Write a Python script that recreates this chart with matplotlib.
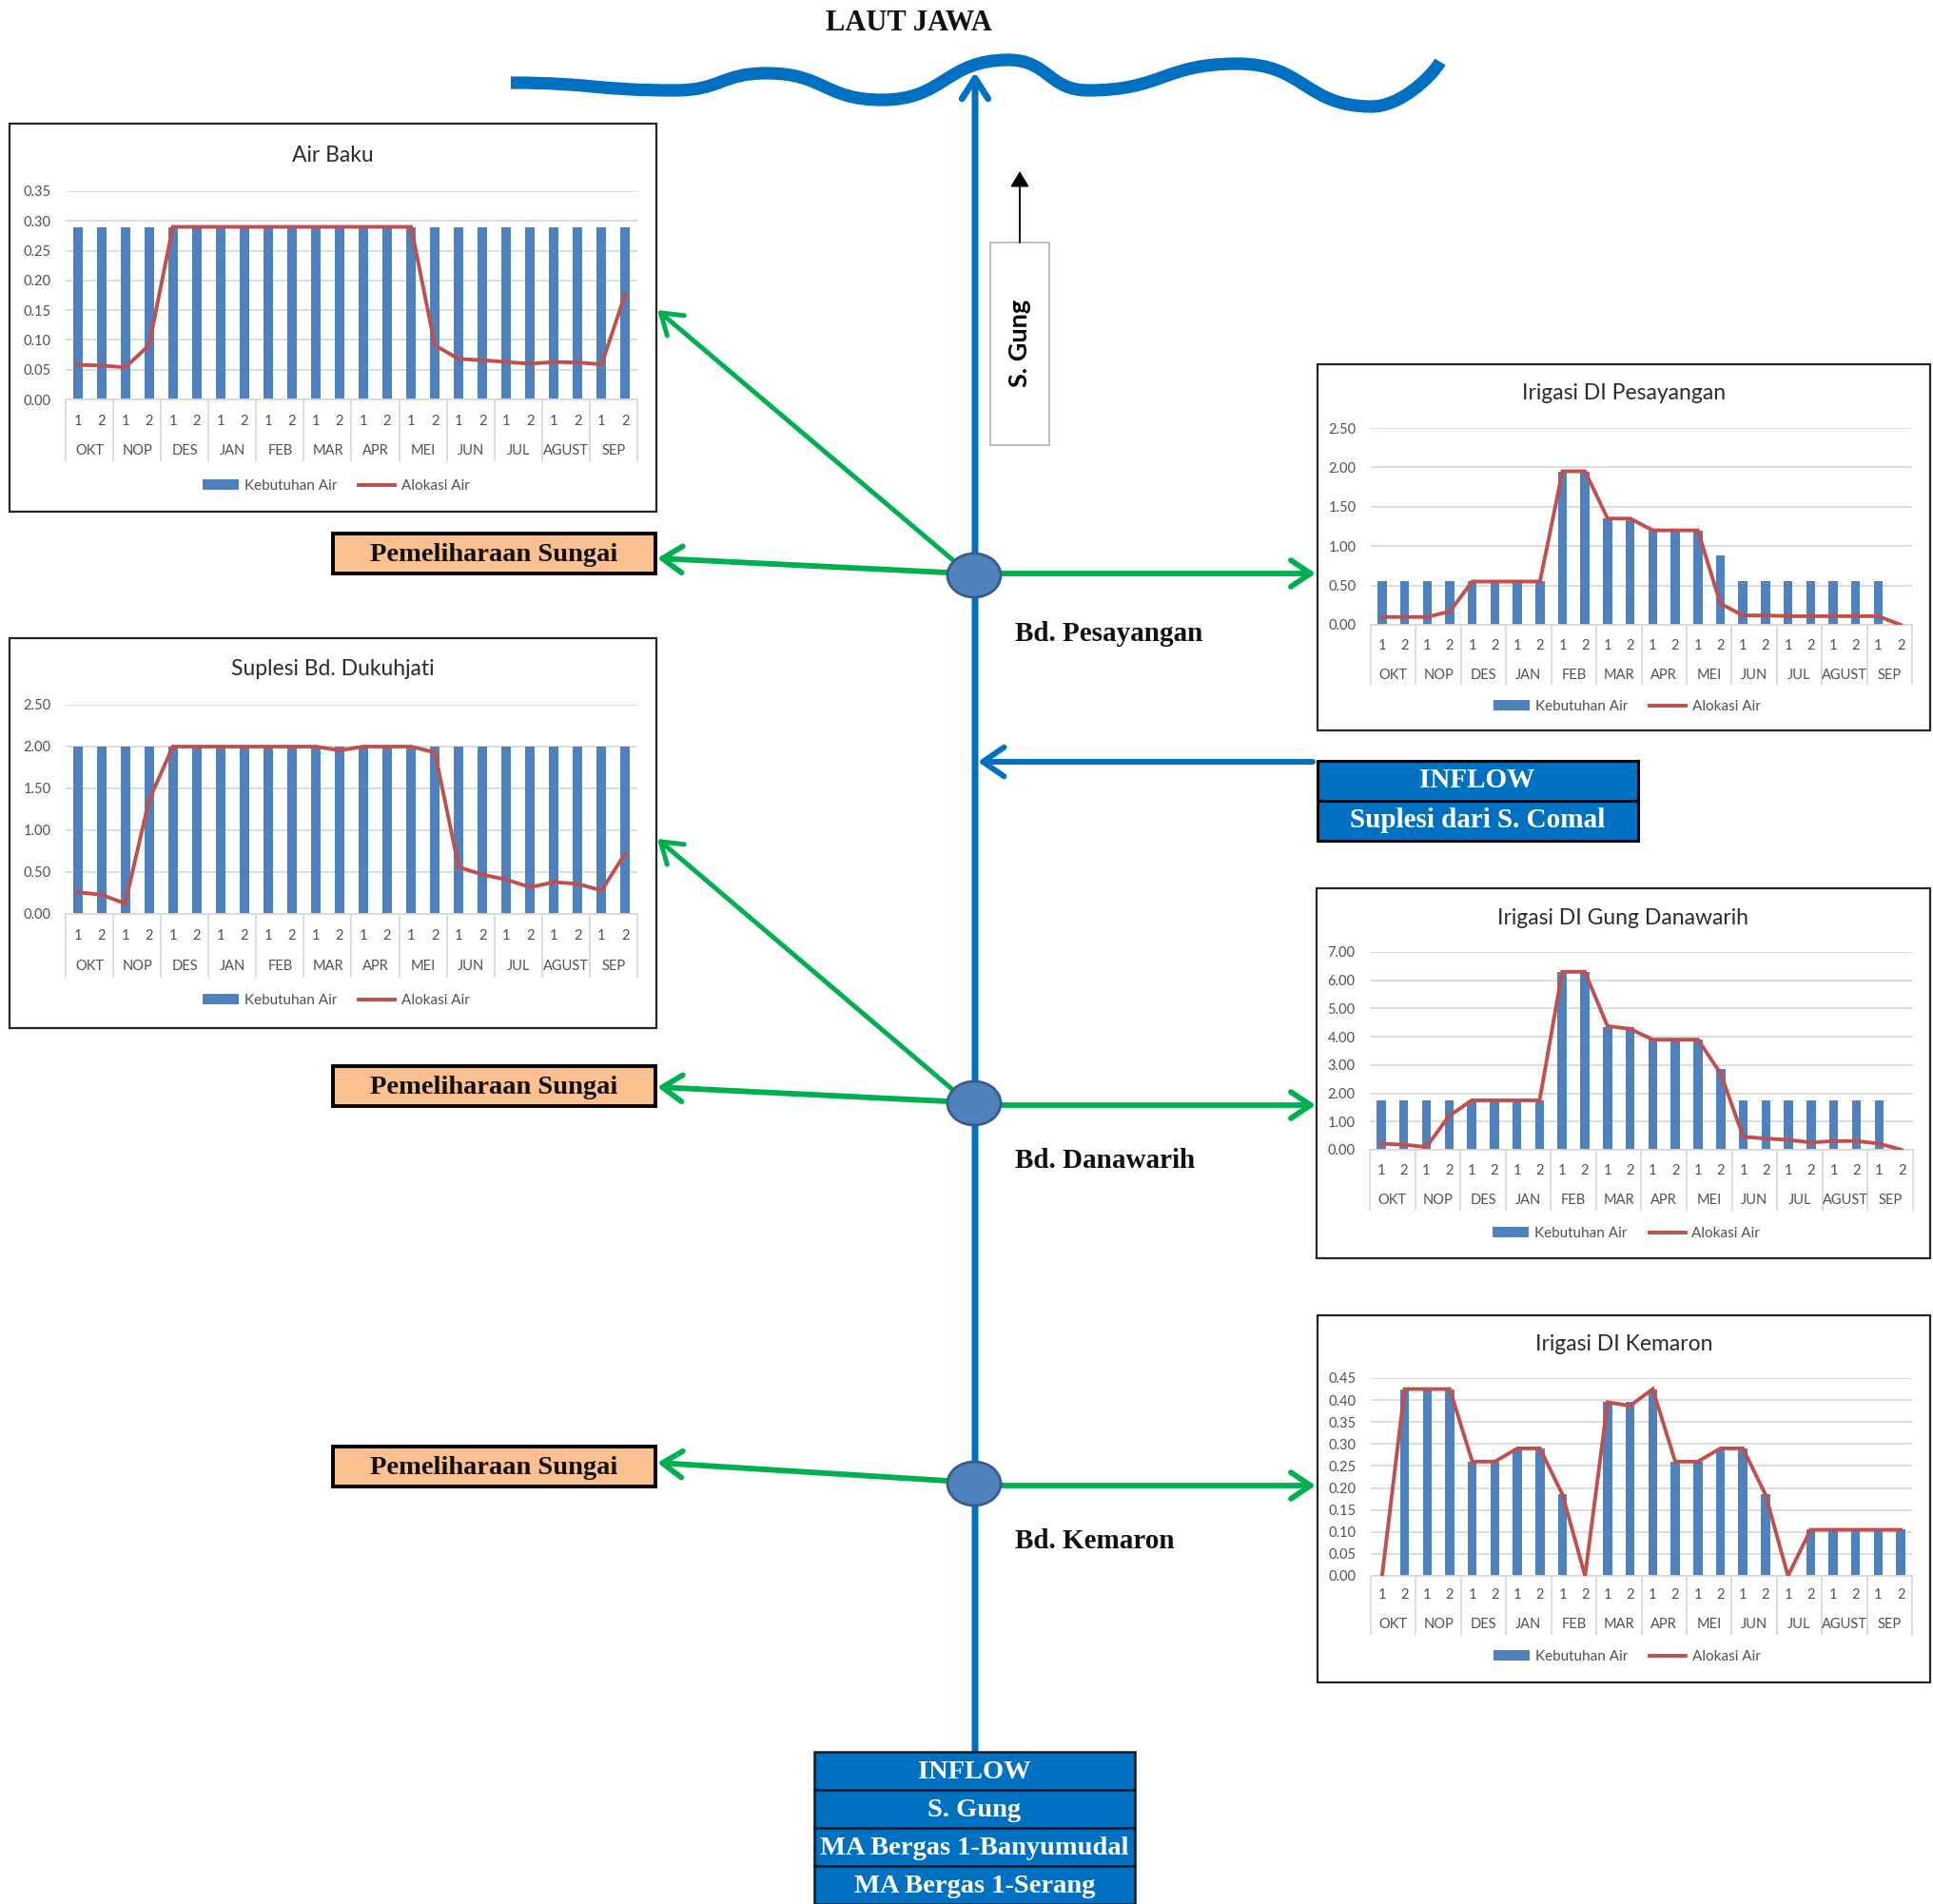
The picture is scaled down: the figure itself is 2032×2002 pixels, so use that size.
import numpy as np
import matplotlib.pyplot as plt
from matplotlib.patches import Rectangle, Ellipse, Patch, PathPatch
from matplotlib.lines import Line2D
from matplotlib.path import Path

W, H = 2032, 2002

# ---- data ----
months = ['OKT', 'NOP', 'DES', 'JAN', 'FEB', 'MAR', 'APR', 'MEI', 'JUN', 'JUL', 'AGUST', 'SEP']
halves = ['1', '2']
series_names = ['Kebutuhan Air', 'Alokasi Air']

air_baku_keb = [0.29, 0.29, 0.29, 0.29, 0.29, 0.29, 0.29, 0.29, 0.29, 0.29, 0.29, 0.29,
                0.29, 0.29, 0.29, 0.29, 0.29, 0.29, 0.29, 0.29, 0.29, 0.29, 0.29, 0.29]
air_baku_alo = [0.058, 0.057, 0.054, 0.091, 0.29, 0.29, 0.29, 0.29, 0.29, 0.29, 0.29, 0.29,
                0.29, 0.29, 0.29, 0.091, 0.068, 0.066, 0.063, 0.060, 0.063, 0.062, 0.059, 0.178]

dukuhjati_keb = [2.0, 2.0, 2.0, 2.0, 2.0, 2.0, 2.0, 2.0, 2.0, 2.0, 2.0, 2.0,
                 2.0, 2.0, 2.0, 2.0, 2.0, 2.0, 2.0, 2.0, 2.0, 2.0, 2.0, 2.0]
dukuhjati_alo = [0.26, 0.23, 0.125, 1.36, 2.0, 2.0, 2.0, 2.0, 2.0, 2.0, 2.0, 1.955,
                 2.0, 2.0, 2.0, 1.93, 0.56, 0.47, 0.41, 0.32, 0.38, 0.36, 0.28, 0.73]

pesayangan_keb = [0.55, 0.55, 0.55, 0.55, 0.55, 0.55, 0.55, 0.55, 1.95, 1.95, 1.35, 1.35,
                  1.20, 1.20, 1.20, 0.88, 0.55, 0.55, 0.55, 0.55, 0.55, 0.55, 0.55, 0.0]
pesayangan_alo = [0.10, 0.10, 0.10, 0.17, 0.55, 0.55, 0.55, 0.55, 1.95, 1.95, 1.35, 1.35,
                  1.20, 1.20, 1.20, 0.27, 0.12, 0.12, 0.11, 0.11, 0.11, 0.11, 0.11, 0.0]

danawarih_keb = [1.75, 1.75, 1.75, 1.75, 1.75, 1.75, 1.75, 1.75, 6.30, 6.30, 4.35, 4.35,
                 3.90, 3.90, 3.90, 2.85, 1.75, 1.75, 1.75, 1.75, 1.75, 1.75, 1.75, 0.0]
danawarih_alo = [0.22, 0.18, 0.10, 1.20, 1.75, 1.75, 1.75, 1.75, 6.30, 6.30, 4.38, 4.28,
                 3.90, 3.90, 3.90, 2.70, 0.46, 0.40, 0.35, 0.26, 0.31, 0.31, 0.22, 0.0]

kemaron_keb = [0.0, 0.425, 0.425, 0.425, 0.26, 0.26, 0.29, 0.29, 0.185, 0.0, 0.395, 0.395,
               0.425, 0.26, 0.26, 0.29, 0.29, 0.185, 0.0, 0.105, 0.105, 0.105, 0.105, 0.105]
kemaron_alo = [0.0, 0.425, 0.425, 0.425, 0.26, 0.26, 0.29, 0.29, 0.185, 0.0, 0.395, 0.387,
               0.425, 0.26, 0.26, 0.29, 0.29, 0.185, 0.0, 0.105, 0.105, 0.105, 0.105, 0.105]

BAR = '#4F81BD'
LINE = '#C0504D'
GRID = '#D9D9D9'
TXT = '#505050'
RIVER = '#0070C0'
GREEN = '#00B050'
SERIF = 'Liberation Serif'
SANS = 'Lato'

fig = plt.figure(figsize=(W / 100, H / 100), dpi=100)
bg = fig.add_axes([0, 0, 1, 1])
bg.set_xlim(0, W)
bg.set_ylim(H, 0)
bg.axis('off')


def px_rect(x0, y0, x1, y1):
    return [x0 / W, 1 - y1 / H, (x1 - x0) / W, (y1 - y0) / H]


def draw_chart(box, plot, title, title_y, keb, alo, ymax, ystep, cat_y, month_y, sep_y, legend_y):
    bx0, by0, bx1, by1 = box
    bg.add_patch(Rectangle((bx0, by0), bx1 - bx0, by1 - by0, fc='white', ec='#262626', lw=1.6, zorder=3))
    bg.text((bx0 + bx1) / 2, title_y, title, ha='center', va='center', fontsize=16.5,
            family=SANS, color='#2b2b2b', zorder=4)

    px0, py0, px1, py1 = plot
    ax = fig.add_axes(px_rect(px0, py0, px1, py1))
    ax.set_facecolor('none')
    x = np.arange(24)
    ax.bar(x, keb, width=0.4, color=BAR, zorder=2)
    ax.plot(x, alo, color=LINE, lw=2.8, zorder=3, solid_joinstyle='miter')
    ax.set_xlim(-0.5, 23.5)
    ax.set_ylim(0, ymax)
    ax.set_yticks(np.arange(0, ymax + ystep / 2, ystep))
    ax.yaxis.set_major_formatter('{x:.2f}')
    ax.yaxis.grid(True, color=GRID, lw=1.3)
    ax.set_axisbelow(True)
    ax.tick_params(axis='y', length=0, pad=11, labelsize=10.5, labelcolor=TXT)
    ax.set_xticks([])
    for lab in ax.get_yticklabels():
        lab.set_family(SANS)
    for s in ['top', 'right', 'left']:
        ax.spines[s].set_visible(False)
    ax.spines['bottom'].set_color(GRID)
    ax.spines['bottom'].set_linewidth(1.3)

    ph = py1 - py0
    ax.vlines(np.arange(-0.5, 24, 2), -(sep_y - py1) / ph, 0, transform=ax.get_xaxis_transform(),
              color=GRID, lw=1.3, clip_on=False)
    for i in range(24):
        ax.annotate(halves[i % 2], xy=(i, 0), xycoords=('data', 'axes fraction'),
                    xytext=(0, -(cat_y - py1) * 0.72), textcoords='offset points',
                    ha='center', va='center', fontsize=10.5, color=TXT, family=SANS)
    for m, name in enumerate(months):
        ax.annotate(name, xy=(2 * m + 0.5, 0), xycoords=('data', 'axes fraction'),
                    xytext=(0, -(month_y - py1) * 0.72), textcoords='offset points',
                    ha='center', va='center', fontsize=10.5, color=TXT, family=SANS)

    handles = [Patch(facecolor=BAR), Line2D([], [], color=LINE, lw=2.8)]
    leg = ax.legend(handles, series_names, loc='center', ncol=2, frameon=False,
                    bbox_to_anchor=(((bx0 + bx1) / 2 + 3) / W, 1 - legend_y / H),
                    bbox_transform=fig.transFigure, fontsize=11, handlelength=2.5,
                    handletextpad=0.4, columnspacing=1.5)
    for t in leg.get_texts():
        t.set_color(TXT)
        t.set_family(SANS)


# ---- river and sea ----
bg.text(955, 25, 'LAUT JAWA', ha='center', va='center', fontsize=22, family=SERIF,
        weight='bold', color='#111111')

wave_pts = [(537, 87), (710, 95), (806, 77), (927, 105), (1060, 63),
            (1144, 95), (1301, 67), (1442, 112), (1514, 65)]
verts = [wave_pts[0]]
codes = [Path.MOVETO]
for k, ((x0, y0), (x1, y1)) in enumerate(zip(wave_pts[:-1], wave_pts[1:])):
    dx = (x1 - x0) * 0.5
    if k == len(wave_pts) - 2:
        verts += [(x0 + dx * 0.8, y0), (x1 - dx * 0.3, y1 + 18), (x1, y1)]
    else:
        verts += [(x0 + dx, y0), (x1 - dx, y1), (x1, y1)]
    codes += [Path.CURVE4] * 3
bg.add_patch(PathPatch(Path(verts, codes), fc='none', ec=RIVER, lw=9.5, capstyle='butt', zorder=2))

river_x = 1025
bg.annotate('', xy=(river_x, 76), xytext=(river_x, 1842),
            arrowprops=dict(arrowstyle='->,head_length=0.7,head_width=0.45', color=RIVER, lw=5,
                            shrinkA=0, shrinkB=0, mutation_scale=22), zorder=2)

# S. Gung box with arrow
bg.add_patch(Rectangle((1041, 255), 62, 213, fc='white', ec='#BFBFBF', lw=1.5, zorder=3))
bg.text(1072, 361, 'S. Gung', rotation=90, ha='center', va='center', fontsize=19.5,
        family=SANS, weight='bold', color='black', zorder=4)
bg.annotate('', xy=(1072, 180), xytext=(1072, 255),
            arrowprops=dict(arrowstyle='-|>,head_length=0.5,head_width=0.3', color='black', lw=1.3,
                            shrinkA=0, shrinkB=0, mutation_scale=20), zorder=3)

# inflow from S. Comal
bg.annotate('', xy=(1028, 801), xytext=(1380, 801),
            arrowprops=dict(arrowstyle='->,head_length=0.8,head_width=0.55', color=RIVER, lw=4.3,
                            shrinkA=0, shrinkB=0, mutation_scale=20), zorder=2)
suplesi_rows = ['INFLOW', 'Suplesi dari S. Comal']
for r, label in enumerate(suplesi_rows):
    y0 = 800 + r * 42
    bg.add_patch(Rectangle((1385, y0), 337, 42, fc=RIVER, ec='black', lw=2.2, zorder=3))
    bg.text(1553, y0 + 21, label, ha='center', va='center', fontsize=21, family=SERIF,
            weight='bold', color='white', zorder=4)

# bottom inflow box
inflow_rows = ['INFLOW', 'S. Gung', 'MA Bergas 1-Banyumudal', 'MA Bergas 1-Serang']
for r, label in enumerate(inflow_rows):
    y0 = 1842 + r * 40
    bg.add_patch(Rectangle((856, y0), 337, 40, fc=RIVER, ec='#1a1a1a', lw=1.8, zorder=3))
    bg.text(1024.5, y0 + 21, label, ha='center', va='center', fontsize=20.5, family=SERIF,
            weight='bold', color='white', zorder=4)

# ---- green arrows ----
green_arrows = [
    ((1003, 590), (691, 326), 3.6),
    ((996, 602), (691, 587), 4.2),
    ((1051, 603), (1383, 603), 4.2),
    ((1003, 1147), (691, 882), 3.6),
    ((996, 1158), (691, 1143), 4.2),
    ((1051, 1162), (1383, 1162), 4.2),
    ((996, 1557), (691, 1538), 4.2),
    ((1051, 1562), (1383, 1562), 4.2),
]
for tail, head, lw in green_arrows:
    bg.annotate('', xy=head, xytext=tail,
                arrowprops=dict(arrowstyle='->,head_length=0.75,head_width=0.5', color=GREEN, lw=lw,
                                shrinkA=0, shrinkB=0, mutation_scale=20), zorder=2)

# maintenance boxes
for y0 in [561, 1121, 1521]:
    bg.add_patch(Rectangle((350, y0), 339, 42, fc='#FAC090', ec='black', lw=2.8, zorder=3))
    bg.text(519.5, y0 + 22, 'Pemeliharaan Sungai', ha='center', va='center', fontsize=20.5,
            family=SERIF, weight='bold', color='#111111', zorder=4)

# weir nodes and labels
node_y = [605, 1160, 1560]
node_names = ['Bd. Pesayangan', 'Bd. Danawarih', 'Bd. Kemaron']
for ny, name in zip(node_y, node_names):
    bg.add_patch(Ellipse((1024, ny), 56, 46, fc=BAR, ec='#385D8A', lw=2, zorder=5))
    bg.text(1067, ny + 61, name, ha='left', va='center', fontsize=21, family=SERIF,
            weight='bold', color='#111111', zorder=4)

# ---- charts ----
draw_chart((10, 130, 690, 538), (69, 201, 670, 420), 'Air Baku', 163,
           air_baku_keb, air_baku_alo, 0.35, 0.05, 443, 474, 485, 511)
draw_chart((10, 671, 690, 1081), (69, 741, 670, 961), 'Suplesi Bd. Dukuhjati', 703,
           dukuhjati_keb, dukuhjati_alo, 2.5, 0.5, 984, 1016, 1028, 1052)
draw_chart((1385, 383, 2029, 768), (1441, 450, 2010, 657), 'Irigasi DI Pesayangan', 413,
           pesayangan_keb, pesayangan_alo, 2.5, 0.5, 679, 710, 720, 743)
draw_chart((1384, 934, 2029, 1323), (1440, 1001, 2011, 1209), 'Irigasi DI Gung Danawarih', 965,
           danawarih_keb, danawarih_alo, 7.0, 1.0, 1231, 1262, 1273, 1297)
draw_chart((1385, 1383, 2029, 1769), (1441, 1449, 2010, 1657), 'Irigasi DI Kemaron', 1413,
           kemaron_keb, kemaron_alo, 0.45, 0.05, 1677, 1708, 1719, 1742)

fig.savefig('out.png', dpi=100)
